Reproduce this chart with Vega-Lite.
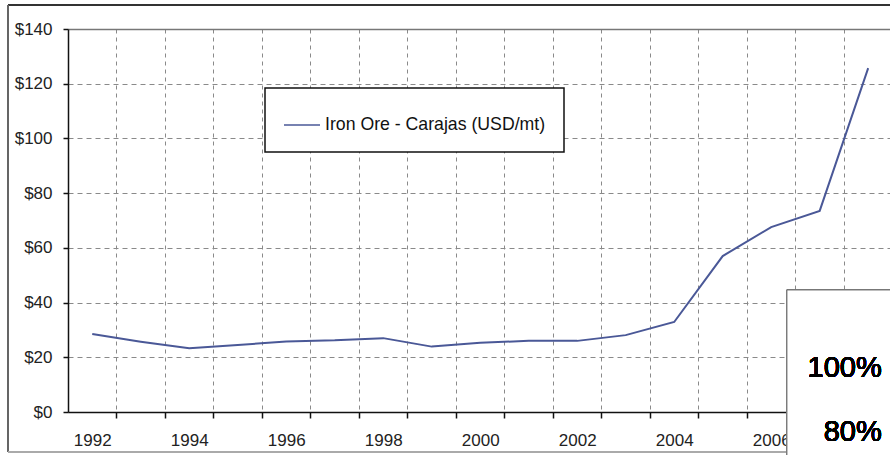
{
  "$schema": "https://vega.github.io/schema/vega-lite/v6.json",
  "width": 822,
  "height": 383,
  "autosize": {"type": "none"},
  "padding": {"left": 68, "top": 29, "right": 0, "bottom": 43},
  "background": "white",
  "config": {
    "view": {"stroke": null},
    "font": "Liberation Sans",
    "legend": {"strokeWidth": 1.5},
    "axis": {"labelOverlap": false, "labelBound": false, "labelFlush": false}
  },
  "data": {
    "values": [
      {"year": 1992, "price": 28.5, "series": "Iron Ore - Carajas (USD/mt)"},
      {"year": 1993, "price": 25.7, "series": "Iron Ore - Carajas (USD/mt)"},
      {"year": 1994, "price": 23.3, "series": "Iron Ore - Carajas (USD/mt)"},
      {"year": 1995, "price": 24.5, "series": "Iron Ore - Carajas (USD/mt)"},
      {"year": 1996, "price": 25.8, "series": "Iron Ore - Carajas (USD/mt)"},
      {"year": 1997, "price": 26.2, "series": "Iron Ore - Carajas (USD/mt)"},
      {"year": 1998, "price": 27.0, "series": "Iron Ore - Carajas (USD/mt)"},
      {"year": 1999, "price": 23.9, "series": "Iron Ore - Carajas (USD/mt)"},
      {"year": 2000, "price": 25.3, "series": "Iron Ore - Carajas (USD/mt)"},
      {"year": 2001, "price": 26.0, "series": "Iron Ore - Carajas (USD/mt)"},
      {"year": 2002, "price": 26.0, "series": "Iron Ore - Carajas (USD/mt)"},
      {"year": 2003, "price": 28.1, "series": "Iron Ore - Carajas (USD/mt)"},
      {"year": 2004, "price": 32.9, "series": "Iron Ore - Carajas (USD/mt)"},
      {"year": 2005, "price": 57.0, "series": "Iron Ore - Carajas (USD/mt)"},
      {"year": 2006, "price": 67.6, "series": "Iron Ore - Carajas (USD/mt)"},
      {"year": 2007, "price": 73.5, "series": "Iron Ore - Carajas (USD/mt)"},
      {"year": 2008, "price": 125.7, "series": "Iron Ore - Carajas (USD/mt)"}
    ]
  },
  "layer": [
    {
      "mark": {"type": "line", "strokeWidth": 2},
      "encoding": {
        "x": {
          "field": "year",
          "type": "quantitative",
          "scale": {"domain": [1991.5, 2008.45], "nice": false, "zero": false},
          "axis": {
            "title": null,
            "values": [1992, 1993, 1994, 1995, 1996, 1997, 1998, 1999, 2000, 2001, 2002, 2003, 2004, 2005, 2006, 2007],
            "labelExpr": "datum.value % 2 === 0 ? '' + datum.value : ''",
            "labelOverlap": false,
            "labelFlush": false,
            "labelBound": false,
            "tickOffset": 24.25,
            "labelOffset": -24.25,
            "grid": true,
            "gridDash": [4, 4],
            "gridColor": "#8a8a8a",
            "gridWidth": 1,
            "tickSize": 6,
            "tickColor": "#111",
            "tickWidth": 1.5,
            "domainColor": "#111",
            "domainWidth": 1.5,
            "labelFont": "Liberation Sans",
            "labelFontSize": 17,
            "labelColor": "#222",
            "labelPadding": 14
          }
        },
        "y": {
          "field": "price",
          "type": "quantitative",
          "scale": {"domain": [0, 140], "nice": false},
          "axis": {
            "title": null,
            "values": [0, 20, 40, 60, 80, 100, 120, 140],
            "labelExpr": "'$' + datum.value",
            "grid": true,
            "gridDash": {"condition": {"test": "datum.value === 140", "value": []}, "value": [5, 4]},
            "gridColor": {"condition": {"test": "datum.value === 140", "value": "#777"}, "value": "#8a8a8a"},
            "gridWidth": {"condition": {"test": "datum.value === 140", "value": 1.5}, "value": 1},
            "tickSize": 5,
            "tickColor": "#111",
            "tickWidth": 1.5,
            "domainColor": "#111",
            "domainWidth": 1.5,
            "labelFont": "Liberation Sans",
            "labelFontSize": 17,
            "labelColor": "#222",
            "labelPadding": 11
          }
        },
        "color": {
          "field": "series",
          "type": "nominal",
          "scale": {"range": ["#4a5897"]},
          "legend": {
            "title": null,
            "orient": "none",
            "legendX": 197,
            "legendY": 59,
            "symbolType": "stroke",
            "symbolSize": 1300,
            "symbolStrokeWidth": 1.5,
            "labelFont": "Liberation Sans",
            "labelFontSize": 17.7,
            "labelColor": "#111",
            "labelOffset": 4,
            "labelLimit": 400,
            "strokeColor": "#111",
            "fillColor": "white",
            "padding": 18
          }
        }
      }
    },
    {
      "mark": {"type": "rule", "stroke": "#333", "strokeWidth": 2},
      "encoding": {
        "x": {"datum": 1990.263, "type": "quantitative"},
        "x2": {"datum": 2010},
        "y": {"datum": 148.77, "type": "quantitative"}
      }
    },
    {
      "mark": {"type": "rule", "stroke": "#666", "strokeWidth": 1.5},
      "encoding": {
        "x": {"datum": 1990.263, "type": "quantitative"},
        "y": {"datum": 148.77, "type": "quantitative"},
        "y2": {"datum": -14.62}
      }
    },
    {
      "mark": {"type": "rule", "stroke": "#aaa", "strokeWidth": 1.5},
      "encoding": {
        "x": {"datum": 1990.263, "type": "quantitative"},
        "x2": {"datum": 2010},
        "y": {"datum": -14.62, "type": "quantitative"}
      }
    },
    {
      "mark": {"type": "rect", "fill": "white", "stroke": "#777", "strokeWidth": 1},
      "encoding": {
        "x": {"datum": 2006.325, "type": "quantitative"},
        "x2": {"datum": 2012},
        "y": {"datum": 44.6, "type": "quantitative"},
        "y2": {"datum": -30}
      }
    },
    {
      "mark": {"type": "text", "align": "right", "baseline": "middle", "font": "Liberation Sans", "fontSize": 29, "fontWeight": "normal", "fill": "#000"},
      "encoding": {
        "x": {"datum": 2008.28, "type": "quantitative"},
        "y": {"datum": 16.1, "type": "quantitative"},
        "text": {"value": "100%"}
      }
    },
    {
      "mark": {"type": "text", "align": "right", "baseline": "middle", "font": "Liberation Sans", "fontSize": 29, "fontWeight": "normal", "fill": "#000"},
      "encoding": {
        "x": {"datum": 2008.28, "type": "quantitative"},
        "y": {"datum": -7.3, "type": "quantitative"},
        "text": {"value": "80%"}
      }
    }
  ]
}
